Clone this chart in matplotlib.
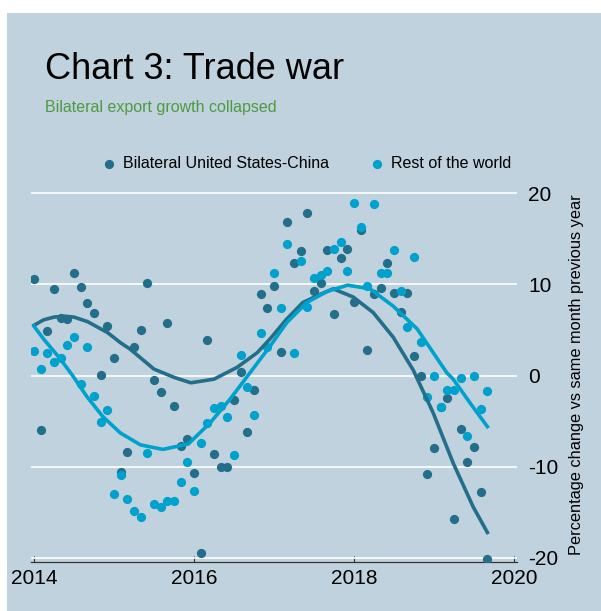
import numpy as np
import matplotlib
matplotlib.use('Agg')
import matplotlib.pyplot as plt
from matplotlib.patches import Rectangle

plt.rcParams['font.family'] = ['Liberation Sans', 'DejaVu Sans']
plt.rcParams['axes.unicode_minus'] = False

# monthly observations, Jan 2014 - Sep 2019 (% change vs same month previous year)
months = np.arange(69)
us_china = [10.6, -6.0, 4.9, 9.5, 6.3, 6.2, 11.2, 9.7, 8.0, 6.9, 0.1, 5.4,
            1.9, -10.6, -8.4, 3.1, 5.0, 10.1, -0.5, -1.8, 5.7, -3.3, -7.7, -7.0,
            -10.7, -19.4, 3.9, -8.6, -10.0, -10.0, -2.7, 0.4, -6.2, -1.6, 8.9, 7.4,
            9.8, 2.6, 16.8, 12.3, 13.6, 17.8, 9.3, 10.1, 13.7, 6.7, 12.9, 13.9,
            8.1, 16.0, 2.8, 8.9, 9.6, 12.3, 9.0, 7.0, 9.0, 2.1, 0.0, -10.8,
            -7.9, -3.5, -2.5, -15.7, -5.9, -9.5, -7.8, -12.8, -20.1]
rest_world = [2.7, 0.7, 2.5, 1.5, 1.9, 3.3, 4.2, -0.9, 3.1, -2.3, -5.1, -3.8,
              -13.0, -10.9, -13.5, -14.8, -15.5, -8.5, -14.1, -14.4, -13.8, -13.8, -11.7, -9.5,
              -12.7, -7.4, -5.2, -3.6, -3.3, -4.6, -8.7, 2.3, -1.3, -4.3, 4.7, 3.1,
              11.2, 7.4, 14.4, 2.5, 12.5, 7.5, 10.7, 11.0, 11.4, 13.9, 14.6, 11.4,
              18.9, 16.3, 9.8, 18.8, 11.2, 11.2, 13.7, 9.3, 5.3, 13.0, 3.7, -2.4,
              -0.1, -3.5, -1.6, -1.6, -0.3, -6.6, -0.1, -3.7, -1.7]
years = 2014 + months / 12

# smoothed trend lines
trend_dark_x = [2014.0, 2014.12, 2014.25, 2014.38, 2014.5, 2014.67, 2014.92, 2015.08, 2015.2,
                2015.35, 2015.5, 2015.75, 2015.96, 2016.25, 2016.54, 2016.79, 2016.95,
                2017.15, 2017.36, 2017.58, 2017.74, 2017.99, 2018.24, 2018.49, 2018.74,
                2018.99, 2019.24, 2019.49, 2019.667]
trend_dark_y = [5.5, 6.1, 6.4, 6.5, 6.4, 5.9, 4.7, 3.6, 2.9,
                1.8, 0.7, -0.2, -0.8, -0.4, 0.9, 2.5, 4.0,
                6.1, 8.0, 8.9, 9.5, 8.6, 6.9, 4.2, 0.6,
                -4.1, -9.6, -14.4, -17.2]
trend_light_x = [2014.0, 2014.12, 2014.33, 2014.49, 2014.66, 2014.86, 2015.08, 2015.33, 2015.61,
                 2015.93, 2016.2, 2016.45, 2016.7, 2016.95, 2017.16, 2017.41, 2017.66, 2017.92,
                 2018.2, 2018.49, 2018.79, 2018.99, 2019.16, 2019.24, 2019.45, 2019.667]
trend_light_y = [5.4, 4.0, 1.8, -0.1, -2.3, -4.5, -6.3, -7.6, -8.1,
                 -7.5, -5.2, -2.6, 0.3, 3.2, 5.8, 8.0, 9.2, 9.9,
                 9.5, 7.6, 5.1, 2.5, 0.3, -0.4, -3.0, -5.6]

year_ticks = [2014, 2016, 2018, 2020]
pct_ticks = [-20, -10, 0, 10, 20]

bg = '#bfd2dd'
dark = '#226e8b'
light = '#00a1cd'

fig = plt.figure(figsize=(6.01, 6.11), dpi=100)
fig.patches.append(Rectangle((7 / 601, 0), 1, 1 - 13 / 611, transform=fig.transFigure,
                             facecolor=bg, edgecolor='none', zorder=-10))

ax = fig.add_axes([31 / 601, 49 / 611, 486 / 601, 373 / 611])
ax.set_facecolor(bg)

ax.scatter(years, us_china, s=44, color=dark, linewidths=0, zorder=3,
           label='Bilateral United States-China')
ax.scatter(years, rest_world, s=44, color=light, linewidths=0, zorder=4,
           label='Rest of the world')
ax.plot(trend_dark_x, trend_dark_y, color=dark, linewidth=2.6, zorder=5,
        solid_joinstyle='round')
ax.plot(trend_light_x, trend_light_y, color=light, linewidth=2.6, zorder=6,
        solid_joinstyle='round')

ax.set_xlim(2014 - 3 / 80, 2020 + 3 / 80)
ax.set_ylim(-20.44, 20.44)
ax.set_xticks(year_ticks)
ax.set_xticklabels([str(y) for y in year_ticks])
ax.set_yticks(pct_ticks)
ax.yaxis.tick_right()
ax.grid(axis='y', color='white', linewidth=1.2)
ax.set_axisbelow(True)
for s in ['top', 'left', 'right']:
    ax.spines[s].set_visible(False)
ax.spines['bottom'].set_color('#333333')
ax.spines['bottom'].set_linewidth(0.9)
ax.tick_params(axis='x', direction='in', length=4, width=0.8, color='#333333',
               labelsize=15, pad=5)
ax.tick_params(axis='y', direction='out', length=0, labelsize=15, pad=8)

fig.text(45 / 601, 1 - 79 / 611, 'Chart 3: Trade war', fontsize=26, va='baseline')
fig.text(45 / 601, 1 - 112 / 611, 'Bilateral export growth collapsed', fontsize=11.5,
         color='#4f9a3f', va='baseline')
fig.text(577 / 601, 1 - 375 / 611, 'Percentage change vs same month previous year',
         rotation=90, fontsize=11.8, ha='center', va='center')

fig.legend(loc='center', bbox_to_anchor=(307 / 601, 1 - 164 / 611), ncol=2, frameon=False,
           fontsize=11.5, handlelength=0.75, handletextpad=0.5, columnspacing=2.6,
           scatterpoints=1, markerscale=1.0, borderpad=0)

fig.savefig('out.png', dpi=100)
